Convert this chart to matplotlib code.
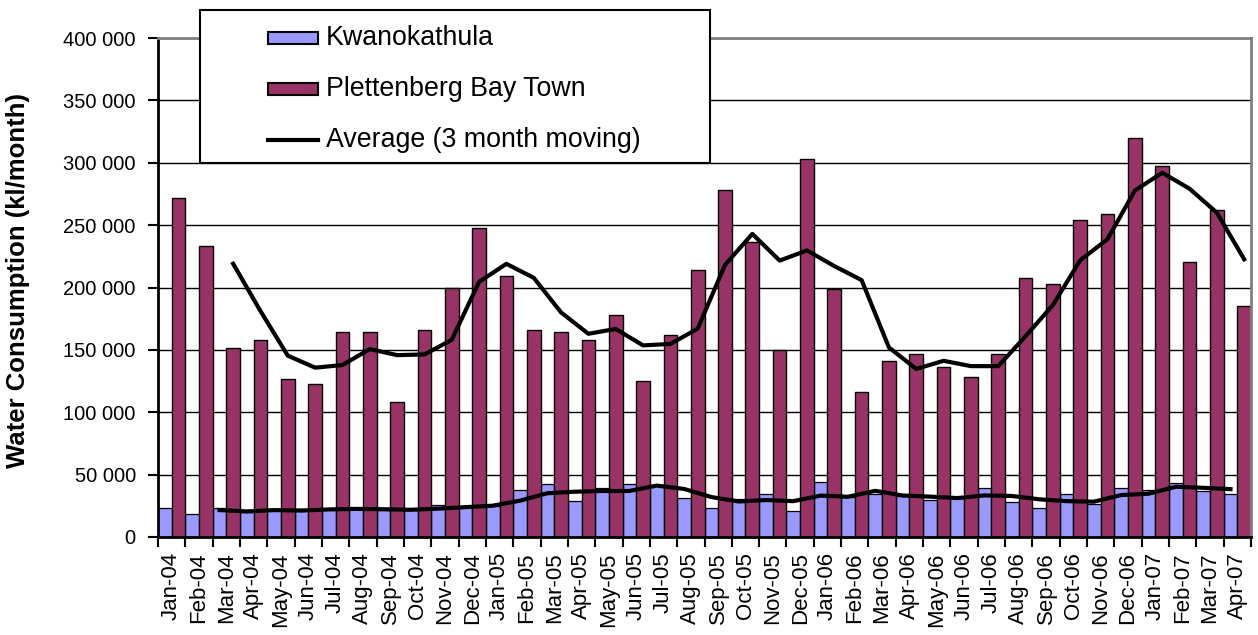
import matplotlib
matplotlib.use('Agg')
import matplotlib.pyplot as plt
import numpy as np
import pandas as pd
from matplotlib.lines import Line2D
from matplotlib.patches import Rectangle
from matplotlib.ticker import FuncFormatter

plt.rcParams['font.family'] = ['Liberation Sans', 'DejaVu Sans']

months = ['Jan-04', 'Feb-04', 'Mar-04', 'Apr-04', 'May-04', 'Jun-04', 'Jul-04', 'Aug-04',
          'Sep-04', 'Oct-04', 'Nov-04', 'Dec-04', 'Jan-05', 'Feb-05', 'Mar-05', 'Apr-05',
          'May-05', 'Jun-05', 'Jul-05', 'Aug-05', 'Sep-05', 'Oct-05', 'Nov-05', 'Dec-05',
          'Jan-06', 'Feb-06', 'Mar-06', 'Apr-06', 'May-06', 'Jun-06', 'Jul-06', 'Aug-06',
          'Sep-06', 'Oct-06', 'Nov-06', 'Dec-06', 'Jan-07', 'Feb-07', 'Mar-07', 'Apr-07']

# kl/month
kwanokathula = [23300, 18200, 23300, 20000, 21400, 22200, 22700, 22700,
                21400, 21400, 25400, 25000, 24900, 37500, 42800, 28600,
                39300, 42800, 41500, 31300, 23300, 30800, 34800, 20600,
                44100, 32100, 34800, 32900, 29400, 31300, 39300, 28100,
                23300, 34800, 26800, 39300, 38000, 43600, 36700, 34800]

plett_town = [271800, 233600, 151700, 158100, 126300, 122800, 164500, 164500,
              108400, 166100, 199600, 247800, 209500, 166100, 164500, 158100,
              177700, 125000, 161600, 214300, 278300, 236300, 150100, 302800,
              198600, 116400, 140800, 146900, 136000, 128000, 146900, 207900,
              203100, 254400, 258900, 319800, 297300, 220500, 262200, 185200]

legend_labels = ['Kwanokathula', 'Plettenberg Bay Town', 'Average (3 month moving)']

# Excel-style 3 month moving average trendlines
kwano_avg = pd.Series(kwanokathula).rolling(3).mean()
plett_avg = pd.Series(plett_town).rolling(3).mean()

BLUE = '#9999FF'
MAROON = '#993366'
W, H = 1258, 635


def fx(px):
    return px / W


def fy(py):
    # pixel row from the top -> figure fraction
    return 1 - py / H


fig = plt.figure(figsize=(W / 100, H / 100), dpi=100)
ax = fig.add_axes([fx(158), fy(537), fx(1251 - 158), (537 - 38) / H])

x = np.arange(len(months))
w = 0.5
ax.bar(x - w / 2, kwanokathula, width=w, color=BLUE, edgecolor='black', linewidth=0.9, zorder=2)
ax.bar(x + w / 2, plett_town, width=w, color=MAROON, edgecolor='black', linewidth=1.0, zorder=2)
ax.plot(x - w / 2, kwano_avg, color='black', lw=3, zorder=3)
ax.plot(x + w / 2, plett_avg, color='black', lw=3, zorder=3)

ax.set_xlim(-0.5, len(months) - 0.5)
ax.set_ylim(0, 400000)
ax.set_yticks(np.arange(0, 400001, 50000))
ax.yaxis.set_major_formatter(FuncFormatter(lambda v, p: f'{int(v):,}'.replace(',', ' ')))
ax.yaxis.grid(True, color='black', lw=1.0, zorder=0)
ax.set_axisbelow(True)

ax.set_xticks(x)
ax.set_xticklabels(months, rotation=90)
ax.set_xticks(np.arange(-0.5, len(months)), minor=True)
ax.tick_params(axis='x', which='major', length=0, labelsize=16, pad=11)
ax.tick_params(axis='x', which='minor', length=7, width=1.5, direction='out')
ax.tick_params(axis='y', length=7, width=1.5, labelsize=14.5, pad=9)

fig.text(fx(18), fy(280), 'Water Consumption (kl/month)', rotation=90,
         ha='center', va='center', fontsize=18.5, fontweight='bold')

for side in ['left', 'bottom']:
    ax.spines[side].set_color('black')
    ax.spines[side].set_linewidth(2)
for side in ['top', 'right']:
    ax.spines[side].set_color('#808080')
    ax.spines[side].set_linewidth(2)

# legend box drawn by hand so its padding matches the Excel one
fig.add_artist(Rectangle((fx(200), fy(163)), fx(510), (163 - 10) / H, transform=fig.transFigure,
                         facecolor='white', edgecolor='black', lw=1.5, zorder=5))
rows = [38, 89, 140]
fig.add_artist(Rectangle((fx(268), fy(rows[0] + 6)), fx(50), 12 / H, transform=fig.transFigure,
                         facecolor=BLUE, edgecolor='black', lw=1.5, zorder=6))
fig.add_artist(Rectangle((fx(268), fy(rows[1] + 6)), fx(50), 12 / H, transform=fig.transFigure,
                         facecolor=MAROON, edgecolor='black', lw=1.5, zorder=6))
fig.add_artist(Line2D([fx(268), fx(318)], [fy(rows[2]), fy(rows[2])], transform=fig.transFigure,
                      color='black', lw=3, zorder=6))
for r, lab in zip(rows, legend_labels):
    fig.text(fx(326), fy(r), lab, ha='left', va='center', fontsize=19.3, zorder=7)

fig.savefig('out.png', dpi=100, facecolor='white')
